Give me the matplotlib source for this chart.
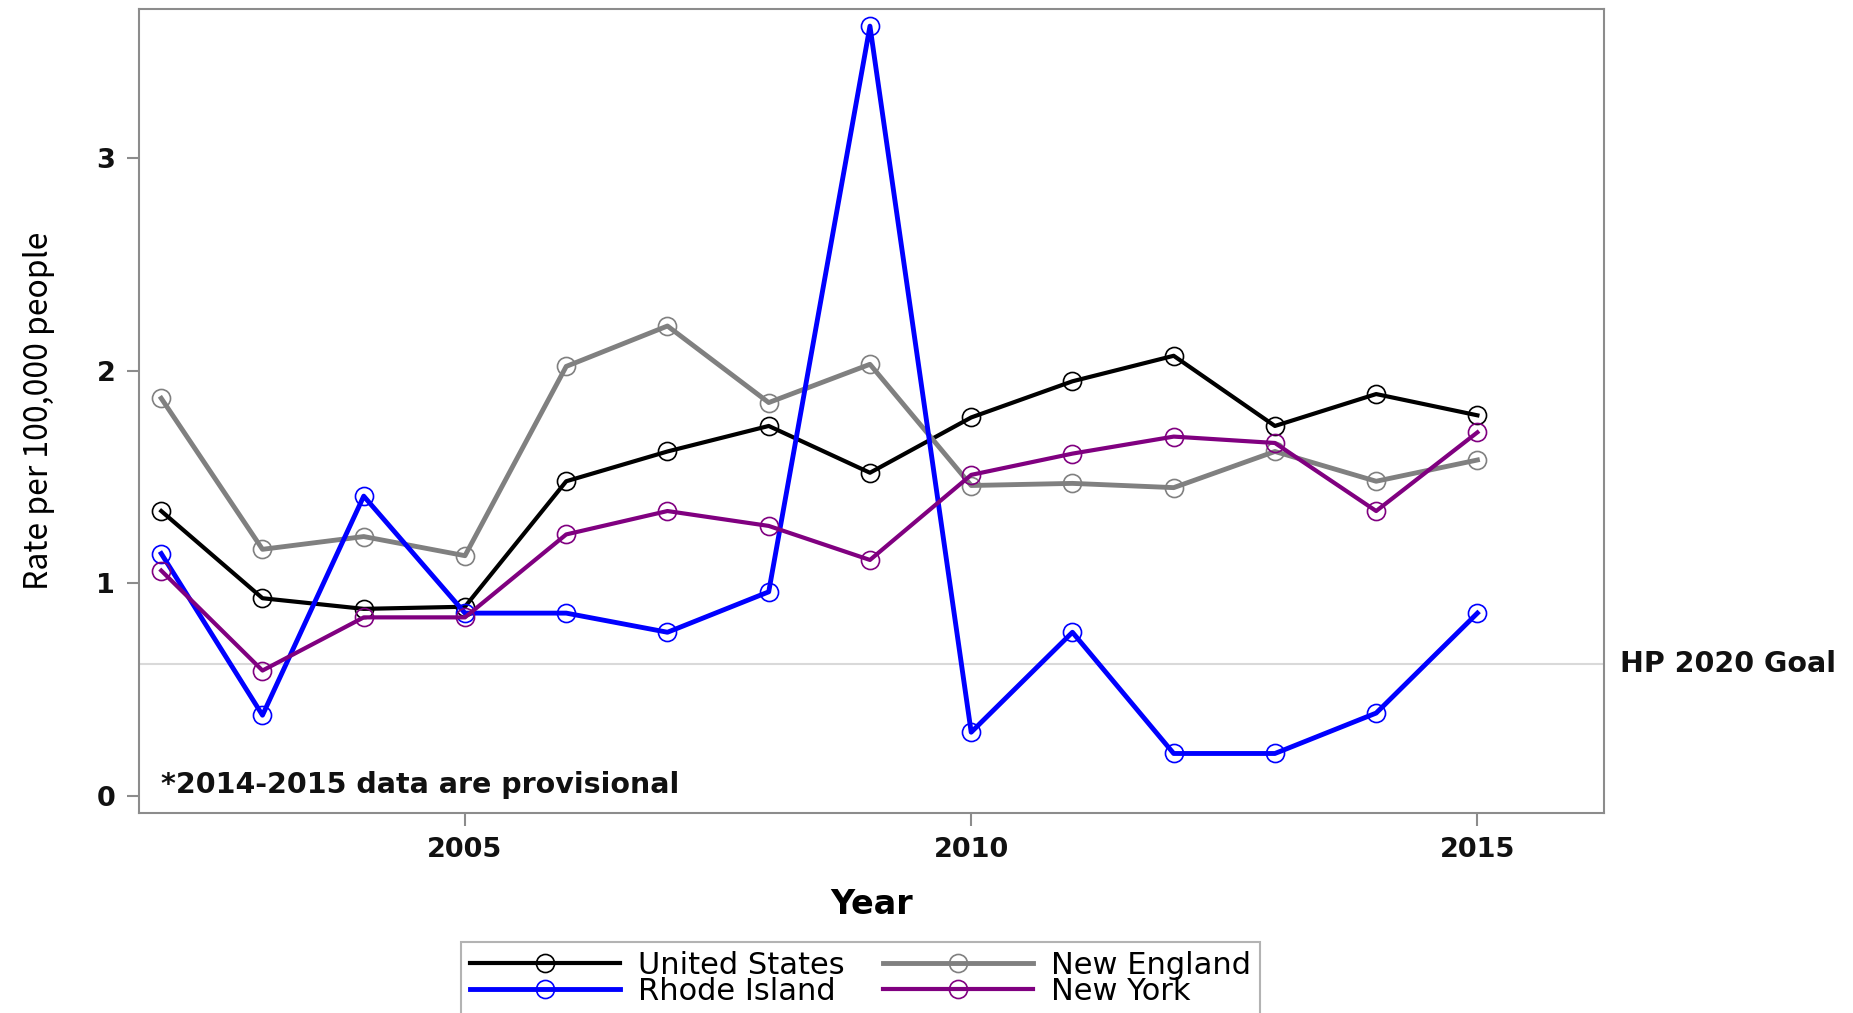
import numpy as np
import matplotlib.pyplot as plt

years = np.arange(2002, 2016)
us = [1.34, 0.93, 0.88, 0.89, 1.48, 1.62, 1.74, 1.52, 1.78, 1.95, 2.07, 1.74, 1.89, 1.79]
new_england = [1.87, 1.16, 1.22, 1.13, 2.02, 2.21, 1.85, 2.03, 1.46, 1.47, 1.45, 1.62, 1.48, 1.58]
rhode_island = [1.14, 0.38, 1.41, 0.86, 0.86, 0.77, 0.96, 3.62, 0.30, 0.77, 0.20, 0.20, 0.39, 0.86]
new_york = [1.06, 0.59, 0.84, 0.84, 1.23, 1.34, 1.27, 1.11, 1.51, 1.61, 1.69, 1.66, 1.34, 1.71]
goal = 0.62

plt.rcParams['font.family'] = ['DejaVu Sans']

fig = plt.figure(figsize=(18.53, 10.13), dpi=100)
ax = fig.add_axes([0.075, 0.1974, 0.7906, 0.7936])

ax.axhline(goal, color='#d9d9d9', lw=1.5, zorder=1)

mk = dict(marker='o', mfc='none', ms=13, mew=1.2)
l_us, = ax.plot(years, us, color='black', lw=3, label='United States', **mk)
l_ne, = ax.plot(years, new_england, color='#808080', lw=3.5, label='New England', **mk)
l_ri, = ax.plot(years, rhode_island, color='#0000ff', lw=3.5, label='Rhode Island', **mk)
l_ny, = ax.plot(years, new_york, color='#800080', lw=3, label='New York', **mk)

ax.set_xlim(2001.78, 2016.25)
ax.set_ylim(-0.08, 3.70)
ax.set_xticks([2005, 2010, 2015])
ax.set_yticks([0, 1, 2, 3])
for s in ax.spines.values():
    s.set_color('#8c8c8c')
    s.set_linewidth(1.5)
ax.tick_params(colors='#8c8c8c', labelcolor='#111111', length=9, width=1.5,
               labelsize=19.5, pad=8)
for t in ax.get_xticklabels() + ax.get_yticklabels():
    t.set_fontweight('bold')

ax.set_xlabel('Year', fontsize=24, fontweight='bold', labelpad=18)
ax.set_ylabel('Rate per 100,000 people', fontsize=23,
              family=['Noto Sans CJK JP', 'DejaVu Sans'], labelpad=30)

ax.text(2002.0, 0.05, '*2014-2015 data are provisional', fontsize=20.5,
        fontweight='bold', va='center', ha='left', color='#111111')
ax.text(1.011, (goal + 0.08) / 3.78, 'HP 2020 Goal', transform=ax.transAxes,
        fontsize=20.5, fontweight='bold', va='center', ha='left', color='#111111')

leg = fig.legend([l_us, l_ri, l_ne, l_ny],
                 ['United States', 'Rhode Island', 'New England', 'New York'],
                 ncol=2, loc='upper left', bbox_to_anchor=(461 / 1853, 1 - 942 / 1013),
                 borderaxespad=0, handlelength=4.9, frameon=True, fancybox=False,
                 edgecolor='#a0a0a0', borderpad=0.3, labelspacing=-0.12,
                 columnspacing=1.25, handletextpad=0.6, fontsize=22)
leg.get_frame().set_linewidth(1.5)

fig.savefig('out.png', dpi=100)
